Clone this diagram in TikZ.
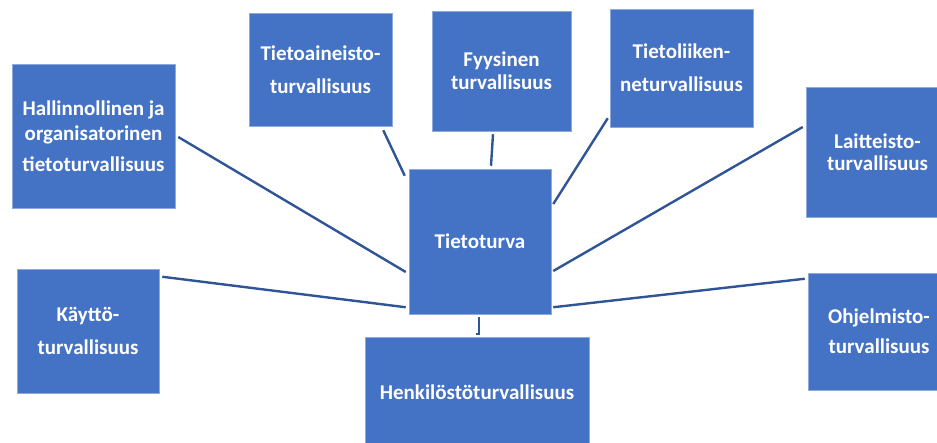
\documentclass[tikz,border=0pt]{standalone}
\usepackage{fontspec}
\setmainfont{Carlito}
\usetikzlibrary{calc}
\definecolor{boxblue}{HTML}{4472C4}
\definecolor{edgeblue}{HTML}{8EA9DB}
\definecolor{lineblue}{HTML}{2F5597}
\tikzset{
  box/.style={rectangle, fill=boxblue, draw=edgeblue, line width=0.5pt, inner sep=0pt,
    text=white, align=center, font=\bfseries\fontsize{21}{23}\selectfont},
  conn/.style={draw=lineblue, line width=2.4pt}
}
\begin{document}
\begin{tikzpicture}[x=1pt,y=-1pt]
\useasboundingbox (0,0) rectangle (937,443);
\node[box, minimum width=163pt, minimum height=144pt] (hal) at (93.5,136)
  {Hallinnollinen ja\\[2pt]organisatorinen\\[8pt]tietoturvallisuus};
\node[box, minimum width=143pt, minimum height=113pt] (tda) at (320.5,69.5)
  {Tietoaineisto-\\[10pt]turvallisuus};
\node[box, minimum width=139pt, minimum height=120pt] (fyy) at (501.5,71)
  {Fyysinen\\turvallisuus};
\node[box, minimum width=143pt, minimum height=118pt] (tl) at (681.5,68)
  {Tietoliiken-\\[10pt]neturvallisuus};
\node[box, minimum width=143pt, minimum height=130pt] (lai) at (877.5,152)
  {Laitteisto-\\[-1pt]turvallisuus};
\node[box, minimum width=142pt, minimum height=145pt] (tt) at (480,241.5)
  {Tietoturva};
\node[box, minimum width=142pt, minimum height=124pt] (kay) at (88,331)
  {Käyttö-\\[10pt]turvallisuus};
\node[box, minimum width=224pt, minimum height=110pt] (hen) at (477,392)
  {Henkilöstöturvallisuus};
\node[box, minimum width=142pt, minimum height=117pt] (ohj) at (879,331.5)
  {Ohjelmisto-\\[7pt]turvallisuus};

\draw[conn] ($(hal.east)+(3,1)$) -- ($(tt.west)+(-3,30.5)$);
\draw[conn] ($(tda.south east)+(-9,4)$) -- ($(tt.north west)+(-4,7)$);
\draw[conn] ($(fyy.south)+(-8.5,3)$) -- ($(tt.north)+(11,-3)$);
\draw[conn] ($(tl.south west)+(-2,-9)$) -- ($(tt.east)+(2,-37.5)$);
\draw[conn] ($(lai.west)+(-3,-25)$) -- ($(tt.east)+(2,29.5)$);
\draw[conn] ($(kay.north east)+(3,8)$) -- ($(tt.south west)+(-3,-7)$);
\draw[conn] ($(ohj.north west)+(-3,6)$) -- ($(tt.south east)+(2,-7)$);
\coordinate (hooktop) at ($(tt.south)+(-1,3)$);
\coordinate (hook) at ($(hen.north)+(2,-3)$);
\draw[conn, line width=1.8pt] (hooktop) -- (hook) -- ($(hook)+(-3,0)$);
\end{tikzpicture}
\end{document}
